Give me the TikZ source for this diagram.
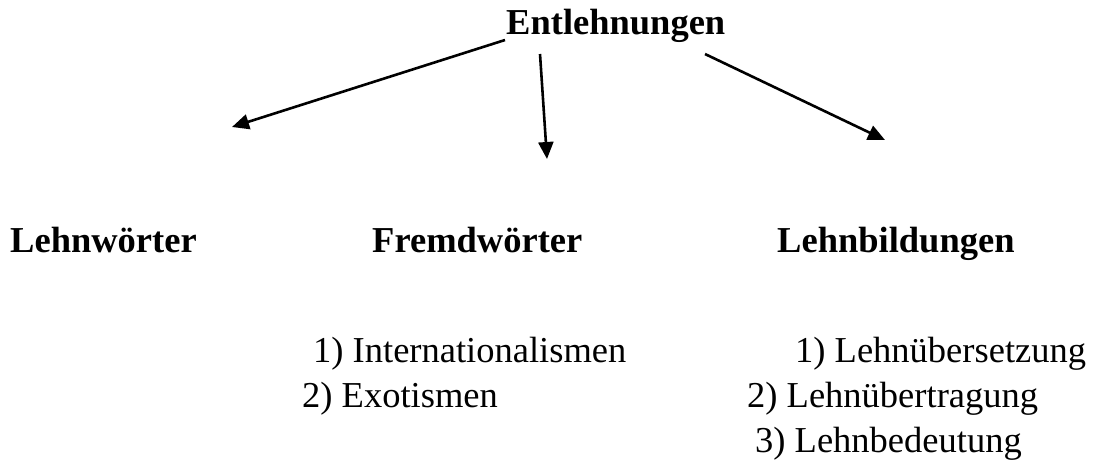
\documentclass[tikz,border=0pt]{standalone}
\usepackage{fontspec}
\setmainfont{Liberation Serif}
\usetikzlibrary{arrows.meta}
\begin{document}
\begin{tikzpicture}[x=1pt,y=-1pt,
        every node/.style={anchor=base west,inner sep=0pt,font=\fontsize{36.5}{44}\selectfont},
        head/.style={font=\fontsize{36.5}{44}\selectfont\bfseries},
        arr/.style={-{Triangle[length=17pt,width=15pt]},line width=2.6pt}]
    \useasboundingbox (0,0) rectangle (1094,472);

    \node[head] (ent) at (506,34) {Entlehnungen};

    \node[head] (lw) at (10,252) {Lehnwörter};
    \node[head] (fw) at (372,252) {Fremdwörter};
    \node[head] (lb) at (777,252) {Lehnbildungen};

    \node (fw1) at (313,362) {1) Internationalismen};
    \node (fw2) at (302,407) {2) Exotismen};

    \node (lb1) at (795,362) {1) Lehnübersetzung};
    \node (lb2) at (747,407) {2) Lehnübertragung};
    \node (lb3) at (755,452) {3) Lehnbedeutung};

    \coordinate (s1) at (505,40);
    \coordinate (t1) at (232,127);
    \coordinate (s2) at (540,54);
    \coordinate (t2) at (547,159);
    \coordinate (s3) at (705,54);
    \coordinate (t3) at (885,140);

    \draw[arr] (s1) -- (t1);
    \draw[arr] (s2) -- (t2);
    \draw[arr] (s3) -- (t3);
\end{tikzpicture}
\end{document}
